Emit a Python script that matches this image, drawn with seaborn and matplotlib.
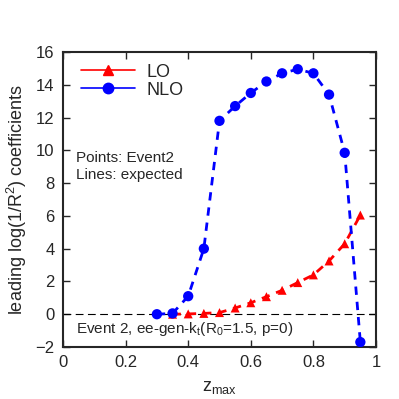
import matplotlib
matplotlib.use("Agg")
import matplotlib.pyplot as plt
import seaborn as sns
import pandas as pd
from matplotlib.lines import Line2D

z_nlo = [0.30, 0.35, 0.40, 0.45, 0.50, 0.55, 0.60, 0.65, 0.70, 0.75, 0.80, 0.85, 0.90, 0.95]
nlo = [0.0, 0.05, 1.1, 4.0, 11.8, 12.7, 13.5, 14.2, 14.7, 14.95, 14.7, 13.4, 9.85, -1.7]
z_lo = [0.35, 0.40, 0.45, 0.50, 0.55, 0.60, 0.65, 0.70, 0.75, 0.80, 0.85, 0.90, 0.95]
lo = [0.0, 0.02, 0.05, 0.1, 0.38, 0.7, 1.07, 1.46, 1.93, 2.4, 3.25, 4.3, 6.05]

df_lo = pd.DataFrame({"z": z_lo, "v": lo})
df_nlo = pd.DataFrame({"z": z_nlo, "v": nlo})

sns.set_style("ticks")
plt.rcParams["font.family"] = ["Liberation Sans", "DejaVu Sans"]

fig = plt.figure(figsize=(3.99, 3.99), dpi=100)
ax = fig.add_axes([63/399, 52/399, 313/399, 295/399])

ax.axhline(0, color="black", lw=0.8, ls=(0, (7, 4)), zorder=1)

# expected lines (dashed)
sns.lineplot(data=df_lo, x="z", y="v", ax=ax, color="red", lw=2, ls=(0, (3, 2.5)), zorder=2)
sns.lineplot(data=df_nlo, x="z", y="v", ax=ax, color="blue", lw=2, ls=(0, (3, 2.5)), zorder=2)
# points
sns.scatterplot(data=df_lo, x="z", y="v", ax=ax, color="red", marker="^", s=42, edgecolor="none", zorder=3)
sns.scatterplot(data=df_nlo, x="z", y="v", ax=ax, color="blue", marker="o", s=55, edgecolor="none", zorder=3)

handles = [Line2D([], [], color="red", lw=1.2, marker="^", ms=6.5),
           Line2D([], [], color="blue", lw=1.2, marker="o", ms=7.5)]
ax.legend(handles, ["LO", "NLO"], loc="upper left", frameon=False, fontsize=13,
          handlelength=3.0, handletextpad=0.6, bbox_to_anchor=(0.035, 0.985),
          borderaxespad=0.0, labelspacing=0.05)

ax.text(0.04, 9.3, "Points: Event2", fontsize=11)
ax.text(0.04, 8.25, "Lines: expected", fontsize=11)
ax.text(0.04, -1.15, r"Event 2, ee-gen-k$_\mathregular{t}$(R$_\mathregular{0}$=1.5, p=0)", fontsize=11)

ax.set_xlim(0, 1)
ax.set_ylim(-2, 16)
ax.set_xticks([0, 0.2, 0.4, 0.6, 0.8, 1])
ax.set_xticklabels(["0", "0.2", "0.4", "0.6", "0.8", "1"])
ax.set_yticks(range(-2, 17, 2))
ax.tick_params(direction="in", top=True, right=True, length=5, width=1, labelsize=12, pad=6)
for s in ax.spines.values():
    s.set_linewidth(1.5)
ax.set_xlabel(r"z$_\mathregular{max}$", fontsize=13, labelpad=6)
ax.set_ylabel(r"leading log(1/R$^\mathregular{2}$) coefficients", fontsize=13, labelpad=5)

fig.savefig("out.png", dpi=100)
